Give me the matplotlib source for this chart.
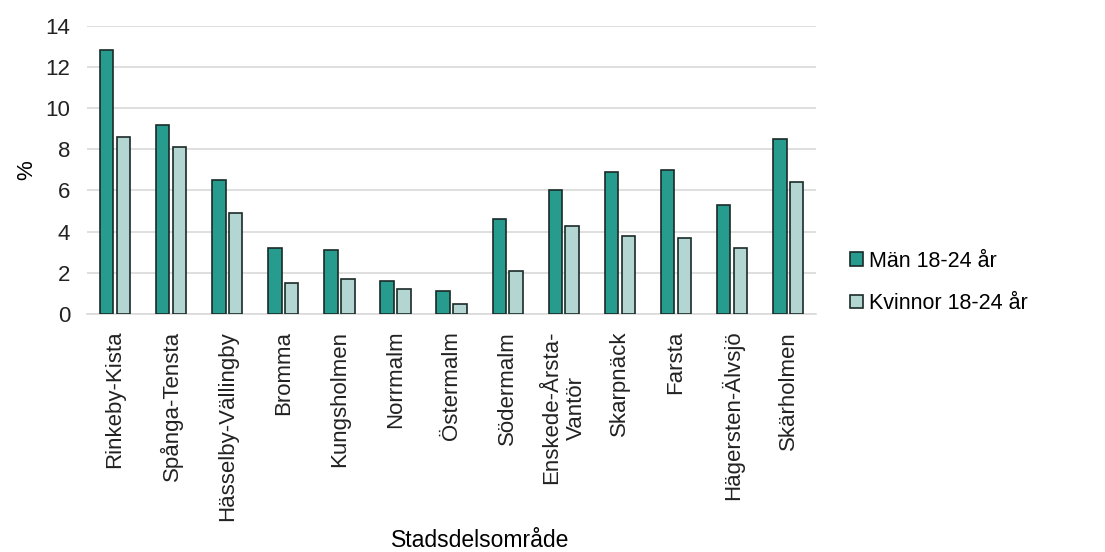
import numpy as np
import matplotlib.pyplot as plt

plt.rcParams['font.family'] = ['Liberation Sans', 'DejaVu Sans']

omraden = ['Rinkeby-Kista', 'Spånga-Tensta', 'Hässelby-Vällingby', 'Bromma',
           'Kungsholmen', 'Norrmalm', 'Östermalm', 'Södermalm',
           'Enskede-Årsta-\nVantör', 'Skarpnäck', 'Farsta',
           'Hägersten-Älvsjö', 'Skärholmen']
man = [12.8, 9.2, 6.5, 3.2, 3.1, 1.6, 1.1, 4.6, 6.0, 6.9, 7.0, 5.3, 8.5]
kvinnor = [8.6, 8.1, 4.9, 1.5, 1.7, 1.2, 0.5, 2.1, 4.3, 3.8, 3.7, 3.2, 6.4]
serier = ['Män 18-24 år', 'Kvinnor 18-24 år']

dark = '#269b8e'
light = '#b4d6d2'

fig = plt.figure(figsize=(11.05, 5.52), dpi=100)
ax = fig.add_axes([0.0787, 0.431, 0.66, 0.5225])

x = np.arange(len(omraden))
w = 0.24
ax.bar(x - 0.15, man, w, color=dark, edgecolor='#1a2a28', linewidth=1.2,
       label=serier[0], zorder=3)
ax.bar(x + 0.15, kvinnor, w, color=light, edgecolor='#1a2a28', linewidth=1.2,
       label=serier[1], zorder=3)

ax.set_xlim(-0.5, len(omraden) - 0.5)
ax.set_ylim(0, 14)
ax.set_yticks(range(0, 15, 2))
ax.yaxis.grid(True, color='#d9d9d9', linewidth=1.2, zorder=0)
ax.set_axisbelow(True)
for s in ['top', 'right', 'left']:
    ax.spines[s].set_visible(False)
ax.spines['bottom'].set_color('#d9d9d9')
ax.spines['bottom'].set_linewidth(1.2)
ax.tick_params(axis='both', length=0, labelsize=16, colors='#222222')
ax.tick_params(axis='y', pad=12)
ax.set_xticks(x)
ax.set_xticklabels(omraden, rotation=90, ha='center', va='top',
                   multialignment='center')
ax.tick_params(axis='x', pad=12)

ax.set_ylabel('%', fontsize=16, labelpad=6)
ax.set_xlabel('Stadsdelsområde', fontsize=16.5)
ax.xaxis.set_label_coords(0.539, -0.745)

ax.legend(loc='center left', bbox_to_anchor=(1.02, 0.11), frameon=False,
          fontsize=15.5, handlelength=0.6, handleheight=0.6, handletextpad=0.25,
          labelspacing=1.0)

plt.savefig('out.png', dpi=100)
